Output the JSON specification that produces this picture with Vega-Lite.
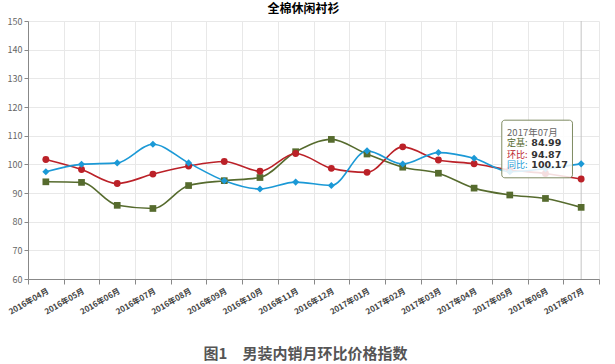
{
  "$schema": "https://vega.github.io/schema/vega-lite/v6.json",
  "width": 571,
  "height": 258,
  "autosize": "none",
  "padding": {"left": 28, "top": 21, "right": 16, "bottom": 85},
  "background": "white",
  "title": {"text": "全棉休闲衬衫", "anchor": "middle", "fontSize": 12, "font": "Noto Sans CJK SC", "fontWeight": "bold", "color": "#000000", "offset": 1, "dx": -10},
  "config": {"view": {"stroke": null}, "font": "Noto Sans CJK SC"},
  "datasets": {
    "main": [
      {"month": "2016年04月", "series": "定基", "value": 93.9},
      {"month": "2016年05月", "series": "定基", "value": 93.7},
      {"month": "2016年06月", "series": "定基", "value": 85.7},
      {"month": "2016年07月", "series": "定基", "value": 84.6},
      {"month": "2016年08月", "series": "定基", "value": 92.6},
      {"month": "2016年09月", "series": "定基", "value": 94.3},
      {"month": "2016年10月", "series": "定基", "value": 95.4},
      {"month": "2016年11月", "series": "定基", "value": 104.4},
      {"month": "2016年12月", "series": "定基", "value": 108.7},
      {"month": "2017年01月", "series": "定基", "value": 103.6},
      {"month": "2017年02月", "series": "定基", "value": 99.0},
      {"month": "2017年03月", "series": "定基", "value": 96.9},
      {"month": "2017年04月", "series": "定基", "value": 91.7},
      {"month": "2017年05月", "series": "定基", "value": 89.3},
      {"month": "2017年06月", "series": "定基", "value": 88.1},
      {"month": "2017年07月", "series": "定基", "value": 84.99},
      {"month": "2016年04月", "series": "环比", "value": 101.7},
      {"month": "2016年05月", "series": "环比", "value": 98.2},
      {"month": "2016年06月", "series": "环比", "value": 93.3},
      {"month": "2016年07月", "series": "环比", "value": 96.6},
      {"month": "2016年08月", "series": "环比", "value": 99.4},
      {"month": "2016年09月", "series": "环比", "value": 101.0},
      {"month": "2016年10月", "series": "环比", "value": 97.6},
      {"month": "2016年11月", "series": "环比", "value": 103.8},
      {"month": "2016年12月", "series": "环比", "value": 98.6},
      {"month": "2017年01月", "series": "环比", "value": 97.2},
      {"month": "2017年02月", "series": "环比", "value": 106.1},
      {"month": "2017年03月", "series": "环比", "value": 101.5},
      {"month": "2017年04月", "series": "环比", "value": 100.2},
      {"month": "2017年05月", "series": "环比", "value": 98.0},
      {"month": "2017年06月", "series": "环比", "value": 96.8},
      {"month": "2017年07月", "series": "环比", "value": 94.87},
      {"month": "2016年04月", "series": "同比", "value": 97.4},
      {"month": "2016年05月", "series": "同比", "value": 100.0},
      {"month": "2016年06月", "series": "同比", "value": 100.5},
      {"month": "2016年07月", "series": "同比", "value": 107.0},
      {"month": "2016年08月", "series": "同比", "value": 100.5},
      {"month": "2016年09月", "series": "同比", "value": 94.3},
      {"month": "2016年10月", "series": "同比", "value": 91.4},
      {"month": "2016年11月", "series": "同比", "value": 93.8},
      {"month": "2016年12月", "series": "同比", "value": 92.6},
      {"month": "2017年01月", "series": "同比", "value": 104.7},
      {"month": "2017年02月", "series": "同比", "value": 100.1},
      {"month": "2017年03月", "series": "同比", "value": 104.1},
      {"month": "2017年04月", "series": "同比", "value": 102.1},
      {"month": "2017年05月", "series": "同比", "value": 97.4},
      {"month": "2017年06月", "series": "同比", "value": 98.5},
      {"month": "2017年07月", "series": "同比", "value": 100.17}
    ]
  },
  "data": {"name": "main"},
  "encoding": {
    "x": {
      "field": "month", "type": "ordinal", "bandPosition": 0.5,
      "scale": {"type": "band", "paddingInner": 0, "paddingOuter": 0,
        "domain": ["2016年04月","2016年05月","2016年06月","2016年07月","2016年08月","2016年09月","2016年10月","2016年11月","2016年12月","2017年01月","2017年02月","2017年03月","2017年04月","2017年05月","2017年06月","2017年07月"]},
      "axis": {
        "title": "图1　男装内销月环比价格指数", "titleFontSize": 15, "titleFontWeight": "bold", "titleColor": "#555555", "titleFont": "Noto Sans CJK SC",
        "titleX": 277, "titleY": 74, "titleBaseline": "middle", "titleAnchor": "middle",
        "tickBand": "extent", "grid": true, "gridColor": "#e8e8e8",
        "labelAngle": -30, "labelFontSize": 8, "labelFontWeight": "bold", "labelColor": "#444444", "labelPadding": 3,
        "domainColor": "#888888", "tickColor": "#888888", "tickSize": 5
      }
    },
    "y": {
      "field": "value", "type": "quantitative",
      "scale": {"domain": [60, 150], "nice": false, "zero": false},
      "axis": {
        "title": null, "values": [60,70,80,90,100,110,120,130,140,150],
        "grid": true, "gridColor": "#e8e8e8", "labelFontSize": 9, "labelColor": "#666666",
        "domainColor": "#888888", "tickColor": "#888888", "tickSize": 4, "labelPadding": 2
      }
    },
    "color": {
      "field": "series", "type": "nominal",
      "scale": {"domain": ["定基", "环比", "同比"], "range": ["#566b2e", "#bb2128", "#1b99d6"]},
      "legend": null
    }
  },
  "layer": [
    {
      "transform": [{"filter": "datum.month === '2017年07月' && datum.series === '定基'"}],
      "mark": {"type": "rule", "color": "#c4c4c4", "strokeWidth": 1},
      "encoding": {"y": null, "color": null}
    },
    {
      "mark": {"type": "line", "interpolate": "monotone"},
      "encoding": {
        "strokeWidth": {"field": "series", "type": "nominal", "scale": {"domain": ["定基", "环比", "同比"], "range": [1.6, 1.6, 2.6]}, "legend": null}
      }
    },
    {
      "transform": [{"filter": "datum.month !== '2017年07月'"}],
      "mark": {"type": "point", "filled": true, "opacity": 1},
      "encoding": {
        "shape": {"field": "series", "type": "nominal", "scale": {"domain": ["定基", "环比", "同比"], "range": ["square", "circle", "diamond"]}, "legend": null},
        "size": {"field": "series", "type": "nominal", "scale": {"domain": ["定基", "环比", "同比"], "range": [45, 50, 30]}, "legend": null}
      }
    },
    {
      "transform": [{"filter": "datum.month === '2017年07月'"}],
      "mark": {"type": "point", "filled": true, "opacity": 1},
      "encoding": {
        "shape": {"field": "series", "type": "nominal", "scale": {"domain": ["定基", "环比", "同比"], "range": ["square", "circle", "diamond"]}, "legend": null},
        "size": {"field": "series", "type": "nominal", "scale": {"domain": ["定基", "环比", "同比"], "range": [90, 90, 50]}, "legend": null}
      }
    },
    {
      "transform": [{"filter": "datum.month === '2017年07月' && datum.series === '定基'"}],
      "mark": {"type": "rect", "fill": "white", "fillOpacity": 0.85, "stroke": "#7f8b62", "strokeWidth": 1, "cornerRadius": 3, "xOffset": -8, "x2Offset": 27},
      "encoding": {
        "x": {"datum": "2017年05月", "type": "ordinal", "bandPosition": 0.5},
        "x2": {"datum": "2017年06月"},
        "y": {"datum": 115.4, "type": "quantitative"},
        "y2": {"datum": 95.3},
        "color": null
      }
    },
    {
      "transform": [{"filter": "datum.month === '2017年07月' && datum.series === '定基'"}],
      "mark": {"type": "text", "align": "left", "baseline": "middle", "fontSize": 9.5, "color": "#666666", "xOffset": -2.7},
      "encoding": {"x": {"datum": "2017年05月", "type": "ordinal", "bandPosition": 0.5}, "y": {"datum": 111.1, "type": "quantitative"}, "text": {"field": "month", "type": "nominal"}, "color": null}
    },
    {
      "transform": [{"filter": "datum.month === '2017年07月' && datum.series === '定基'"}],
      "mark": {"type": "text", "align": "left", "baseline": "middle", "fontSize": 9, "color": "#566b2e", "xOffset": -2.7},
      "encoding": {"x": {"datum": "2017年05月", "type": "ordinal", "bandPosition": 0.5}, "y": {"datum": 107.3, "type": "quantitative"}, "text": {"value": "定基:"}, "color": null}
    },
    {
      "transform": [{"filter": "datum.month === '2017年07月' && datum.series === '环比'"}],
      "mark": {"type": "text", "align": "left", "baseline": "middle", "fontSize": 9, "color": "#bb2128", "xOffset": -2.7},
      "encoding": {"x": {"datum": "2017年05月", "type": "ordinal", "bandPosition": 0.5}, "y": {"datum": 103.4, "type": "quantitative"}, "text": {"value": "环比:"}, "color": null}
    },
    {
      "transform": [{"filter": "datum.month === '2017年07月' && datum.series === '同比'"}],
      "mark": {"type": "text", "align": "left", "baseline": "middle", "fontSize": 9, "color": "#1b99d6", "xOffset": -2.7},
      "encoding": {"x": {"datum": "2017年05月", "type": "ordinal", "bandPosition": 0.5}, "y": {"datum": 99.6, "type": "quantitative"}, "text": {"value": "同比:"}, "color": null}
    },
    {
      "transform": [{"filter": "datum.month === '2017年07月' && datum.series === '定基'"}],
      "mark": {"type": "text", "align": "left", "baseline": "middle", "fontSize": 9.5, "fontWeight": "bold", "font": "DejaVu Sans", "color": "#333333", "xOffset": 21.5},
      "encoding": {"x": {"datum": "2017年05月", "type": "ordinal", "bandPosition": 0.5}, "y": {"datum": 107.3, "type": "quantitative"}, "text": {"field": "value", "type": "quantitative", "format": ".2f"}, "color": null}
    },
    {
      "transform": [{"filter": "datum.month === '2017年07月' && datum.series === '环比'"}],
      "mark": {"type": "text", "align": "left", "baseline": "middle", "fontSize": 9.5, "fontWeight": "bold", "font": "DejaVu Sans", "color": "#333333", "xOffset": 21.5},
      "encoding": {"x": {"datum": "2017年05月", "type": "ordinal", "bandPosition": 0.5}, "y": {"datum": 103.4, "type": "quantitative"}, "text": {"field": "value", "type": "quantitative", "format": ".2f"}, "color": null}
    },
    {
      "transform": [{"filter": "datum.month === '2017年07月' && datum.series === '同比'"}],
      "mark": {"type": "text", "align": "left", "baseline": "middle", "fontSize": 9.5, "fontWeight": "bold", "font": "DejaVu Sans", "color": "#333333", "xOffset": 21.5},
      "encoding": {"x": {"datum": "2017年05月", "type": "ordinal", "bandPosition": 0.5}, "y": {"datum": 99.6, "type": "quantitative"}, "text": {"field": "value", "type": "quantitative", "format": ".2f"}, "color": null}
    }
  ]
}
